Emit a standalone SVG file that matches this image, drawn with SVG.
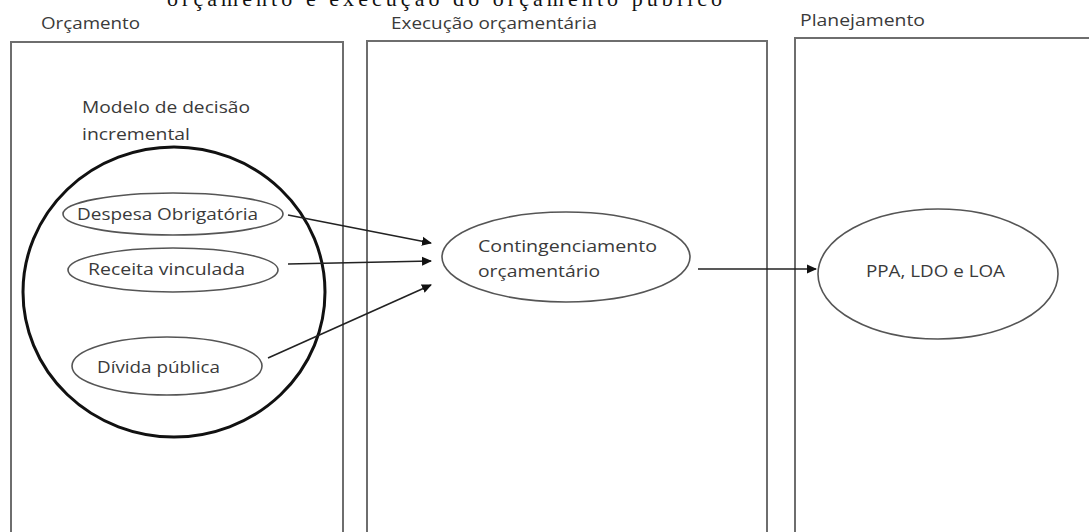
<svg xmlns="http://www.w3.org/2000/svg" width="1089" height="532" viewBox="0 0 1089 532">
<defs>
<style>
.box{fill:none;stroke:#6e6e6e;stroke-width:2}
.ell{fill:#fff;stroke:#555;stroke-width:1.6}
.big{fill:none;stroke:#111;stroke-width:3}
.lbl{font-family:"Open Sans","Noto Sans",sans-serif;font-size:16px;fill:#3a3a3a}
.title{font-family:"Liberation Serif",serif;font-size:22px;fill:#111}
.con{stroke:#222;stroke-width:1.6;fill:none;marker-end:url(#ah)}
</style>
<marker id="ah" markerWidth="10" markerHeight="10" refX="9" refY="5" orient="auto" markerUnits="userSpaceOnUse">
<path d="M0,0.5 L10,5 L0,9.5 Z" fill="#111"/>
</marker>
</defs>
<rect width="1089" height="532" fill="#fff"/>
<text class="title" x="167" y="6" textLength="555" lengthAdjust="spacing">orçamento e execução do orçamento público</text>

<g id="orcamento">
<rect class="box" x="11" y="42" width="332" height="500"/>
<text class="lbl" x="41" y="29" textLength="99" lengthAdjust="spacingAndGlyphs">Orçamento</text>
</g>
<g id="execucao">
<rect class="box" x="367" y="41" width="400" height="500"/>
<text class="lbl" x="391" y="29" textLength="206" lengthAdjust="spacingAndGlyphs">Execução orçamentária</text>
</g>
<g id="planejamento">
<rect class="box" x="795" y="38" width="300" height="500"/>
<text class="lbl" x="800" y="26" textLength="125" lengthAdjust="spacingAndGlyphs">Planejamento</text>
</g>

<g id="modelo">
<text class="lbl" x="82" y="113" textLength="168" lengthAdjust="spacingAndGlyphs">Modelo de decisão</text>
<text class="lbl" x="82" y="140" textLength="108" lengthAdjust="spacingAndGlyphs">incremental</text>
<ellipse class="big" cx="174" cy="292" rx="151" ry="145"/>
</g>

<g id="despesa">
<ellipse class="ell" cx="173" cy="214" rx="110" ry="21"/>
<text class="lbl" x="77" y="220" textLength="181" lengthAdjust="spacingAndGlyphs">Despesa Obrigatória</text>
</g>
<g id="receita">
<ellipse class="ell" cx="173" cy="270" rx="105" ry="22"/>
<text class="lbl" x="88" y="275" textLength="157" lengthAdjust="spacingAndGlyphs">Receita vinculada</text>
</g>
<g id="divida">
<ellipse class="ell" cx="167" cy="366" rx="95" ry="29"/>
<text class="lbl" x="97" y="373" textLength="123" lengthAdjust="spacingAndGlyphs">Dívida pública</text>
</g>
<g id="contingenciamento">
<ellipse class="ell" cx="566" cy="257" rx="124" ry="45"/>
<text class="lbl" x="478" y="252" textLength="179" lengthAdjust="spacingAndGlyphs">Contingenciamento</text>
<text class="lbl" x="478" y="277" textLength="122" lengthAdjust="spacingAndGlyphs">orçamentário</text>
</g>
<g id="ppa">
<ellipse class="ell" cx="938" cy="274" rx="120" ry="65"/>
<text class="lbl" x="866" y="277" textLength="139" lengthAdjust="spacingAndGlyphs">PPA, LDO e LOA</text>
</g>

<g id="connectors">
<line class="con" x1="288" y1="215" x2="431" y2="243"/>
<line class="con" x1="288" y1="264" x2="431" y2="261"/>
<line class="con" x1="268" y1="358" x2="431" y2="285"/>
<line class="con" x1="698" y1="269" x2="816" y2="269"/>
</g>
</svg>
